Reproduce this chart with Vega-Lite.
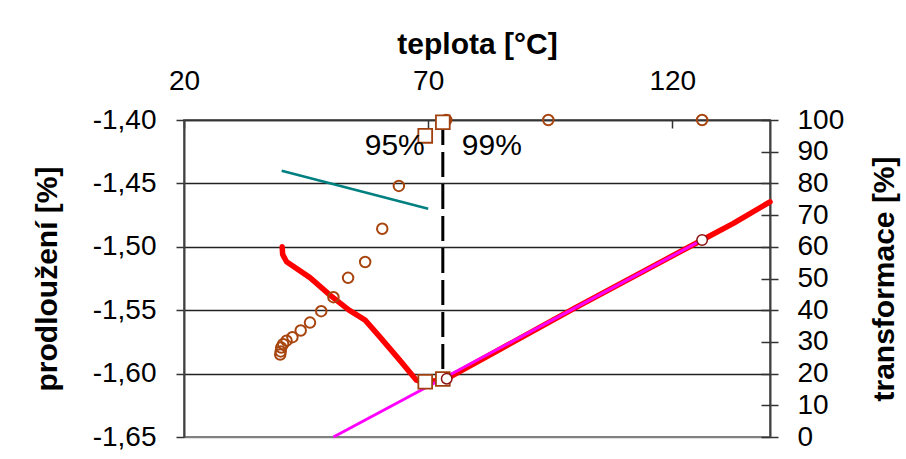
{
  "$schema": "https://vega.github.io/schema/vega-lite/v6.json",
  "width": 586,
  "height": 317,
  "autosize": "none",
  "padding": {"left": 184, "top": 120, "right": 136, "bottom": 22},
  "background": "white",
  "config": {
    "font": "Liberation Sans",
    "view": {"stroke": "#808080", "strokeWidth": 2},
    "axis": {
      "labelFont": "Liberation Sans",
      "titleFont": "Liberation Sans",
      "labelFontSize": 28,
      "titleFontSize": 30,
      "titleFontWeight": "bold",
      "labelColor": "#000",
      "titleColor": "#000",
      "tickColor": "#333",
      "domainColor": "#404040",
      "domainWidth": 2,
      "tickWidth": 1.5,
      "labelFlush": false
    }
  },
  "datasets": {
    "red": [
      {"t": 40.1, "p": -1.5}, {"t": 40.2, "p": -1.506}, {"t": 41.0, "p": -1.5118},
      {"t": 45.8, "p": -1.5243}, {"t": 49.9, "p": -1.5381}, {"t": 53.8, "p": -1.5499},
      {"t": 57.1, "p": -1.5578}, {"t": 60.1, "p": -1.571}, {"t": 64.0, "p": -1.5886},
      {"t": 67.6, "p": -1.6052}, {"t": 68.7, "p": -1.6065}, {"t": 71.7, "p": -1.6057},
      {"t": 74.5, "p": -1.6025}, {"t": 100, "p": -1.5483}, {"t": 126.1, "p": -1.4946},
      {"t": 132.5, "p": -1.4815}, {"t": 140, "p": -1.4645}
    ],
    "magenta": [{"t": 50.6, "p": -1.65}, {"t": 126.1, "p": -1.4946}],
    "teal": [{"t": 40, "p": -1.44}, {"t": 70, "p": -1.47}],
    "dash": [{"t": 73, "p": -1.4, "p2": -1.604}],
    "sqlow": [{"t": 69.4, "p": -1.6064}, {"t": 73.0, "p": -1.6043}],
    "wcirc": [{"t": 73.8, "p": -1.604}, {"t": 126.1, "p": -1.4946}],
    "brown": [
      {"t": 39.7, "tr": 26.0}, {"t": 39.8, "tr": 27.0}, {"t": 39.9, "tr": 28.2},
      {"t": 40.3, "tr": 29.3}, {"t": 41.0, "tr": 30.4}, {"t": 42.2, "tr": 31.5},
      {"t": 43.9, "tr": 33.6}, {"t": 45.8, "tr": 36.1}, {"t": 48.1, "tr": 39.7},
      {"t": 50.6, "tr": 44.1}, {"t": 53.6, "tr": 50.2}, {"t": 57.1, "tr": 55.2},
      {"t": 60.6, "tr": 65.7}, {"t": 64.0, "tr": 79.2}, {"t": 73.7, "tr": 100},
      {"t": 94.6, "tr": 100}, {"t": 126.1, "tr": 100}
    ],
    "squp": [{"t": 69.4, "tr": 95}, {"t": 73.0, "tr": 99.3}],
    "l95": [{"t": 69.3, "tr": 89, "label": "95%"}],
    "l99": [{"t": 76.9, "tr": 89, "label": "99%"}]
  },
  "encoding": {
    "x": {
      "field": "t",
      "type": "quantitative",
      "scale": {"domain": [20, 140], "nice": false, "zero": false},
      "axis": {
        "orient": "top",
        "values": [20, 70, 120],
        "title": "teplota [°C]",
        "tickSize": -8,
        "labelPadding": 33,
        "titlePadding": 8,
        "grid": false,
        "domainColor": "#333",
        "domainWidth": 1.5
      }
    }
  },
  "layer": [
    {
      "encoding": {
        "y": {
          "field": "p",
          "type": "quantitative",
          "scale": {"domain": [-1.65, -1.4], "nice": false, "zero": false},
          "axis": {
            "orient": "left",
            "values": [-1.65, -1.6, -1.55, -1.5, -1.45, -1.4],
            "labelExpr": "(datum.value < 0 ? '-' : '') + replace(format(abs(datum.value), '.2f'), '.', ',')",
            "title": "prodloužení [%]",
            "tickSize": 8,
            "labelPadding": 20,
            "titlePadding": 30,
            "grid": true,
            "gridColor": {"condition": {"test": "datum.value < -1.649", "value": "#808080"}, "value": "#222"},
            "gridWidth": 1.3
          }
        }
      },
      "layer": [
        {"data": {"name": "red"}, "mark": {"type": "line", "color": "#FF0000", "strokeWidth": 5.5, "strokeCap": "round", "strokeJoin": "round"}},
        {"data": {"name": "magenta"}, "mark": {"type": "line", "color": "#FF00FF", "strokeWidth": 3}},
        {"data": {"name": "teal"}, "mark": {"type": "line", "color": "#008080", "strokeWidth": 2.5}},
        {"data": {"name": "dash"}, "mark": {"type": "rule", "color": "#000", "strokeWidth": 3, "strokeDash": [25, 7]}, "encoding": {"y2": {"field": "p2"}}},
        {"data": {"name": "sqlow"}, "mark": {"type": "square", "filled": true, "fill": "white", "stroke": "#A0400F", "strokeWidth": 1.8, "size": 190, "opacity": 1}},
        {"data": {"name": "wcirc"}, "mark": {"type": "circle", "filled": true, "fill": "white", "stroke": "#8B1010", "strokeWidth": 1.5, "size": 110, "opacity": 1}}
      ]
    },
    {
      "encoding": {
        "y": {
          "field": "tr",
          "type": "quantitative",
          "scale": {"domain": [0, 100], "nice": false, "zero": false},
          "axis": {
            "orient": "right",
            "values": [0, 10, 20, 30, 40, 50, 60, 70, 80, 90, 100],
            "title": "transformace [%]",
            "titleAngle": 270,
            "titleBaseline": "top",
            "titlePadding": 26,
            "tickSize": 8,
            "labelPadding": 19,
            "grid": false
          }
        }
      },
      "layer": [
        {"data": {"name": "brown"}, "mark": {"type": "point", "shape": "circle", "filled": false, "stroke": "#A8450F", "strokeWidth": 2, "size": 110, "opacity": 1}},
        {"data": {"name": "squp"}, "mark": {"type": "square", "filled": true, "fill": "white", "stroke": "#A0400F", "strokeWidth": 1.8, "size": 190, "opacity": 1}},
        {"data": {"name": "l95"}, "mark": {"type": "text", "align": "right", "baseline": "alphabetic", "fontSize": 30, "color": "#000"}, "encoding": {"text": {"field": "label"}}},
        {"data": {"name": "l99"}, "mark": {"type": "text", "align": "left", "baseline": "alphabetic", "fontSize": 30, "color": "#000"}, "encoding": {"text": {"field": "label"}}}
      ]
    },
    {
      "data": {"values": [{"t": 20, "q": 0}]},
      "mark": {"type": "rule", "opacity": 0},
      "encoding": {
        "y": {
          "field": "q",
          "type": "quantitative",
          "scale": {"domain": [0, 100], "nice": false, "zero": false},
          "axis": {
            "orient": "right",
            "values": [0, 10, 20, 30, 40, 50, 60, 70, 80, 90, 100],
            "title": null,
            "labels": false,
            "domain": false,
            "tickSize": -9,
            "grid": false
          }
        }
      }
    }
  ],
  "resolve": {"scale": {"y": "independent"}}
}
